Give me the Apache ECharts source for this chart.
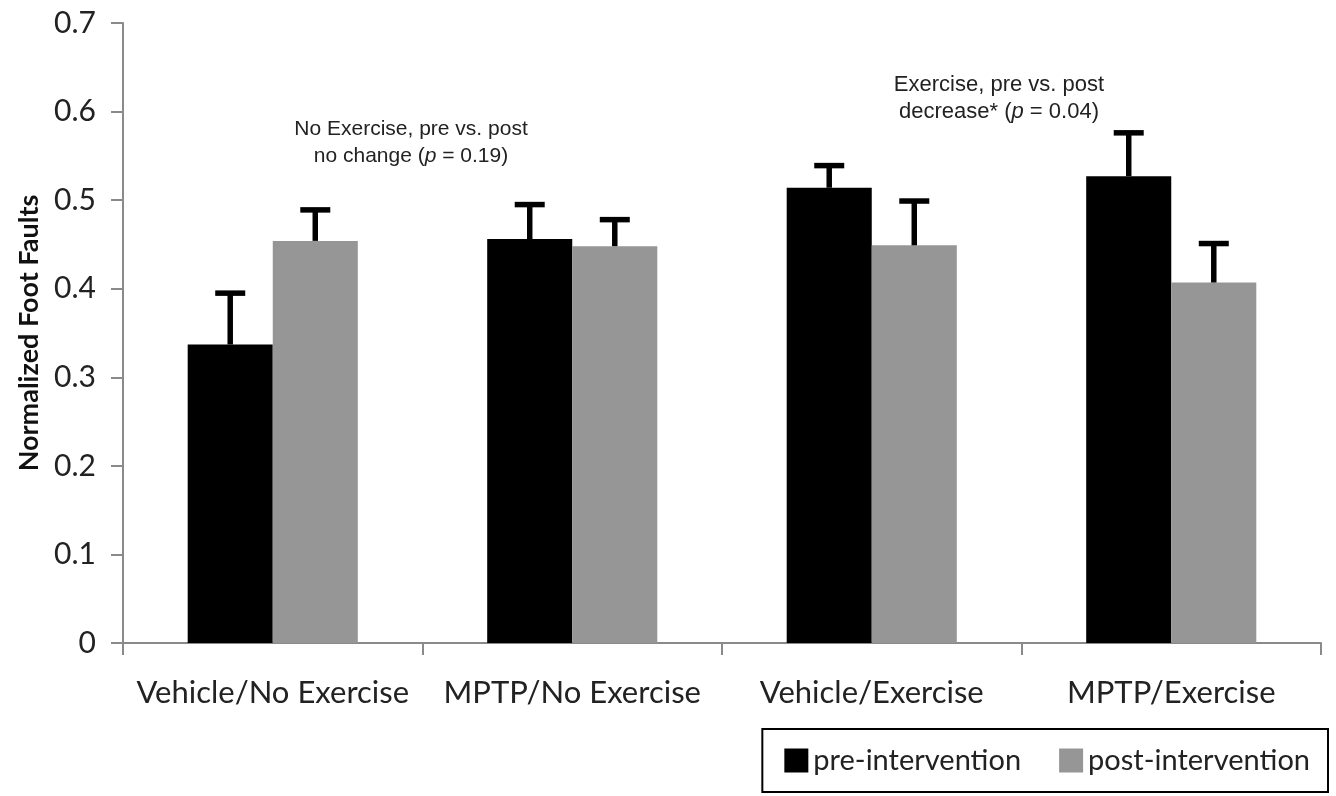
<!DOCTYPE html>
<html>
<head>
<meta charset="utf-8">
<script src="https://cdn.jsdelivr.net/npm/echarts@6/dist/echarts.min.js"></script>
<style>
  html, body { margin: 0; padding: 0; background: #fff; }
  #chart { width: 1336px; height: 796px; }
</style>
</head>
<body>
<div id="chart"></div>
<script>
const categories = ['Vehicle/No Exercise', 'MPTP/No Exercise', 'Vehicle/Exercise', 'MPTP/Exercise']
const preValues = [0.337, 0.456, 0.514, 0.527]
const preErrTop = [0.395, 0.495, 0.539, 0.576]
const postValues = [0.454, 0.448, 0.449, 0.407]
const postErrTop = [0.489, 0.478, 0.499, 0.451]
const seriesNames = ['pre-intervention', 'post-intervention']

const BAR_RATIO = 0.284 // bar width / category band
const labelFont = 'Lato, "Open Sans", sans-serif'
const noteFont = '"Liberation Sans", Arial, sans-serif'

const chart = echarts.init(document.getElementById('chart'))

// T-shaped error bars, only on the upper side
function errorSeries(name, values, tops, side) {
  return {
    name,
    type: 'custom',
    z: 5,
    data: values.map((v, i) => [i, v, tops[i]]),
    renderItem: (params, api) => {
      const band = api.size([1, 0])[0]
      const dx = side * band * BAR_RATIO / 2
      const base = api.coord([api.value(0), api.value(1)])
      const top = api.coord([api.value(0), api.value(2)])
      const x = base[0] + dx
      const capHalf = 15
      const style = { stroke: '#000', lineWidth: 5.5 }
      return {
        type: 'group',
        children: [
          { type: 'line', shape: { x1: x, y1: base[1], x2: x, y2: top[1] }, style },
          { type: 'line', shape: { x1: x - capHalf, y1: top[1], x2: x + capHalf, y2: top[1] }, style }
        ]
      }
    }
  }
}

function note(x, y, text, size) {
  return {
    type: 'text',
    x,
    y,
    style: {
      text,
      font: size + 'px ' + noteFont,
      fill: '#222',
      lineHeight: 27,
      textAlign: 'center',
      textVerticalAlign: 'top',
      rich: { i: { fontStyle: 'italic', fontSize: size, fontFamily: noteFont, fill: '#222' } }
    }
  }
}

const option = {
  animation: false,
  grid: { left: 123, right: 15, top: 23, bottom: 153 },
  legend: {
    data: seriesNames,
    right: 8,
    top: 729,
    orient: 'horizontal',
    padding: [17, 18, 17, 22],
    itemGap: 38,
    itemWidth: 24,
    itemHeight: 24,
    icon: 'rect',
    borderColor: '#000',
    borderWidth: 2,
    textStyle: { fontFamily: labelFont, fontSize: 29, color: '#222' }
  },
  xAxis: {
    type: 'category',
    data: categories,
    axisLine: { show: true, lineStyle: { color: '#8a8a8a', width: 2 } },
    axisTick: { show: true, interval: 0, length: 12, lineStyle: { color: '#8a8a8a', width: 2 } },
    axisLabel: {
      interval: 0,
      hideOverlap: false,
      margin: 34,
      fontFamily: labelFont,
      fontSize: 31,
      color: '#222'
    }
  },
  yAxis: {
    type: 'value',
    min: 0,
    max: 0.7,
    interval: 0.1,
    name: 'Normalized Foot Faults',
    nameLocation: 'middle',
    nameGap: 80,
    nameTextStyle: { fontFamily: labelFont, fontSize: 27, fontWeight: 'bold', color: '#111' },
    axisLine: { show: true, lineStyle: { color: '#8a8a8a', width: 2 } },
    axisTick: { show: true, length: 12, lineStyle: { color: '#8a8a8a', width: 2 } },
    splitLine: { show: false },
    axisLabel: {
      margin: 27,
      fontFamily: labelFont,
      fontSize: 30,
      color: '#222',
      formatter: (v) => (v === 0 ? '0' : v.toFixed(1))
    }
  },
  graphic: [
    note(411, 116, 'No Exercise, pre vs. post\nno change ({i|p} = 0.19)', 21),
    note(999, 71, 'Exercise, pre vs. post\ndecrease* ({i|p} = 0.04)', 22)
  ],
  series: [
    {
      name: seriesNames[0],
      type: 'bar',
      data: preValues,
      barWidth: (BAR_RATIO * 100) + '%',
      barGap: '0%',
      itemStyle: { color: '#000' }
    },
    {
      name: seriesNames[1],
      type: 'bar',
      data: postValues,
      barWidth: (BAR_RATIO * 100) + '%',
      barGap: '0%',
      itemStyle: { color: '#969696' }
    },
    errorSeries('preErr', preValues, preErrTop, -1),
    errorSeries('postErr', postValues, postErrTop, 1)
  ]
}

chart.setOption(option)
</script>
</body>
</html>
